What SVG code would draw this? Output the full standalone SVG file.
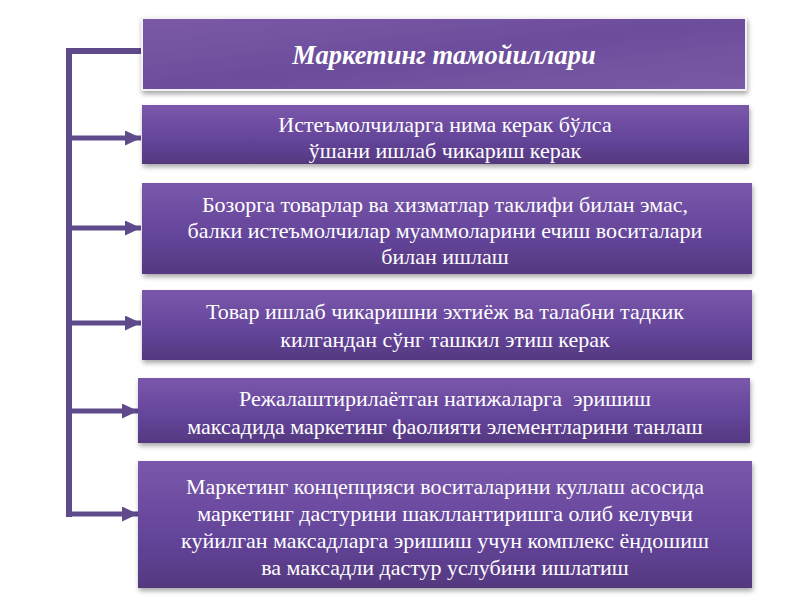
<svg xmlns="http://www.w3.org/2000/svg" width="800" height="600" viewBox="0 0 800 600">
<defs>
<linearGradient id="g" x1="0" y1="0" x2="0" y2="1">
<stop offset="0" stop-color="#7a58aa"/>
<stop offset="0.6" stop-color="#63449a"/>
<stop offset="1" stop-color="#55387f"/>
</linearGradient>
<linearGradient id="gt" x1="0" y1="0" x2="1" y2="1">
<stop offset="0" stop-color="#7b5aa6"/>
<stop offset="0.5" stop-color="#6c4d9c"/>
<stop offset="1" stop-color="#7a5aa6"/>
</linearGradient>
<filter id="sh" x="-5%" y="-10%" width="110%" height="130%">
<feDropShadow dx="1" dy="3" stdDeviation="2.5" flood-color="#000" flood-opacity="0.35"/>
</filter>
<marker id="ah" markerWidth="3.4" markerHeight="3" refX="3.2" refY="1.5" orient="auto" markerUnits="strokeWidth">
<path d="M0,0 L3.2,1.5 L0,3 Z" fill="#5f4a8c"/>
</marker>
<style>
.box{fill:url(#g);filter:url(#sh);}
.t{font-family:"Liberation Serif","DejaVu Serif",serif;font-size:22px;fill:#fff;text-anchor:middle;white-space:pre;}
.title{font-family:"Liberation Serif","DejaVu Serif",serif;font-size:26.5px;font-weight:bold;font-style:italic;fill:#fff;text-anchor:middle;}
.c{stroke:#5f4a8c;stroke-width:6;fill:none;}
.a{stroke:#5f4a8c;stroke-width:5;fill:none;}
</style>
</defs>
<rect width="800" height="600" fill="#fff"/>
<g id="connectors">
<path class="c" d="M143,51 H69 V517"/>
<line class="a" x1="69" y1="138" x2="141" y2="138" marker-end="url(#ah)"/>
<line class="a" x1="69" y1="228" x2="141" y2="228" marker-end="url(#ah)"/>
<line class="a" x1="69" y1="323" x2="141" y2="323" marker-end="url(#ah)"/>
<line class="a" x1="69" y1="411" x2="138" y2="411" marker-end="url(#ah)"/>
<line class="a" x1="69" y1="514" x2="138" y2="514" marker-end="url(#ah)"/>
</g>
<g id="title">
<rect x="142" y="18" width="604" height="72" fill="url(#gt)" stroke="#f4f0f8" stroke-width="2" filter="url(#sh)"/>
<text class="title" x="444" y="64">Маркетинг тамойиллари</text>
</g>
<g id="n1">
<rect class="box" x="142" y="105" width="607" height="59"/>
<text class="t" x="445" y="132">Истеъмолчиларга нима керак бўлса</text>
<text class="t" x="445" y="158">ўшани ишлаб чикариш керак</text>
</g>
<g id="n2">
<rect class="box" x="142" y="183" width="610" height="91"/>
<text class="t" x="445" y="212">Бозорга товарлар ва хизматлар таклифи билан эмас,</text>
<text class="t" x="445" y="238">балки истеъмолчилар муаммоларини ечиш воситалари</text>
<text class="t" x="445" y="264">билан ишлаш</text>
</g>
<g id="n3">
<rect class="box" x="142" y="290" width="610" height="70"/>
<text class="t" x="445" y="319">Товар ишлаб чикаришни эхтиёж ва талабни тадкик</text>
<text class="t" x="445" y="347">килгандан сўнг ташкил этиш керак</text>
</g>
<g id="n4">
<rect class="box" x="138" y="378" width="612" height="65"/>
<text class="t" x="445" y="406">Режалаштирилаётган натижаларга  эришиш</text>
<text class="t" x="445" y="434">максадида маркетинг фаолияти элементларини танлаш</text>
</g>
<g id="n5">
<rect class="box" x="138" y="461" width="614" height="127"/>
<text class="t" x="445" y="494">Маркетинг концепцияси воситаларини куллаш асосида</text>
<text class="t" x="445" y="521">маркетинг дастурини шакллантиришга олиб келувчи</text>
<text class="t" x="445" y="548">куйилган максадларга эришиш учун комплекс ёндошиш</text>
<text class="t" x="445" y="575">ва максадли дастур услубини ишлатиш</text>
</g>
</svg>
